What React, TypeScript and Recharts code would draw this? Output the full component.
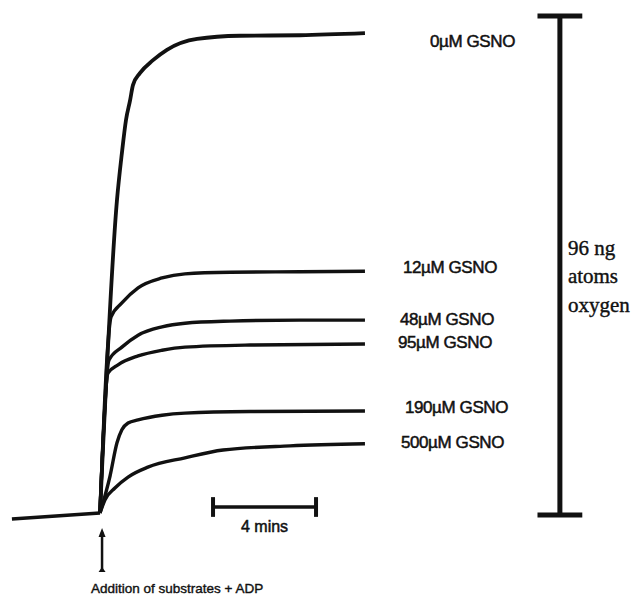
import React from 'react';
import { LineChart, Line, XAxis, YAxis, ReferenceLine, ReferenceDot } from 'recharts';

// time in minutes after addition, oxygen consumed in ng atoms O
const baseline = [
  [-3.42, -0.77],
  [-1.71, -0.19],
  [0, 0.38],
];

const gsno0 = [
  [0, 0.38], [0.66, 60.6], [0.85, 69.6], [1.01, 76.0], [1.17, 79.8], [1.28, 82.7],
  [1.55, 85.0], [2.06, 87.5], [2.6, 89.5], [3.77, 91.6], [5.44, 92.2], [7.77, 92.3], [10.29, 92.7],
];
const gsno12 = [
  [0, 0.38], [0.43, 38.1], [0.85, 40.8], [1.48, 43.7], [2.41, 45.6],
  [3.3, 46.4], [5.05, 46.7], [7.77, 46.8], [10.29, 46.9],
];
const gsno48 = [
  [0, 0.38], [0.35, 29.8], [0.85, 32.3], [1.48, 34.6], [2.41, 36.2],
  [3.3, 36.9], [5.05, 37.3], [7.77, 37.5], [10.29, 37.5],
];
const gsno95 = [
  [0, 0.38], [0.31, 27.3], [0.7, 28.9], [1.48, 30.6], [2.41, 31.7], [3.3, 32.3],
  [5.83, 32.7], [10.29, 32.9],
];
const gsno190 = [
  [0, 0.38], [0.39, 7.5], [0.66, 13.9], [0.85, 16.4], [1.09, 17.7], [1.48, 18.3],
  [2.41, 19.2], [3.3, 19.6], [5.83, 19.9], [10.29, 20.0],
];
const gsno500 = [
  [0, 0.38], [0.19, 2.9], [0.58, 5.2], [1.09, 7.3], [1.86, 9.2], [3.3, 11.0],
  [4.78, 12.5], [7.38, 13.3], [10.29, 13.7],
];

const seriesNames = ['0µM GSNO', '12µM GSNO', '48µM GSNO', '95µM GSNO', '190µM GSNO', '500µM GSNO'];
const seriesData = [gsno0, gsno12, gsno48, gsno95, gsno190, gsno500];

// scale bars
const timeBarStart = 4.39;
const timeBarMinutes = 4;
const timeBarLevel = 1.54;
const oxygenBarTime = 17.86;
const oxygenBarAmount = 96;
const additionTime = 0.08;

// label offsets (px) from each trace's last point
const labelOffsets = [
  [65, 8], [38, -4], [35, -1], [33, -1], [40, -4], [36, -1],
];

const toPoints = (arr: number[][]) => arr.map(([t, v]) => ({ t, v }));

const INK = '#111';
const SANS = '"Liberation Sans", Arial, sans-serif';
const SERIF = '"Liberation Serif", "Times New Roman", serif';

const App = () => {
  return (
    <div style={{ position: 'absolute', left: 0, top: 0, width: 634, height: 599, background: '#fff' }}>
      <LineChart width={634} height={599} margin={{ top: 0, right: 0, bottom: 0, left: 0 }}>
        <XAxis type="number" dataKey="t" domain={[-3.883, 20.738]} hide allowDataOverflow />
        <YAxis type="number" dataKey="v" domain={[-16.16, 99.08]} hide allowDataOverflow />

        <Line
          data={toPoints(baseline)}
          dataKey="v"
          type="linear"
          stroke={INK}
          strokeWidth={3.5}
          dot={false}
          activeDot={false}
          isAnimationActive={false}
        />
        {seriesData.map((d, i) => (
          <Line
            key={seriesNames[i]}
            data={toPoints(d)}
            dataKey="v"
            type="monotone"
            stroke={INK}
            strokeWidth={i === 0 ? 3.8 : 3.4}
            dot={false}
            activeDot={false}
            isAnimationActive={false}
          />
        ))}

        {seriesData.map((d, i) => {
          const [t, v] = d[d.length - 1];
          const [dx, dy] = labelOffsets[i];
          return (
            <ReferenceDot
              key={'lab' + i}
              x={t}
              y={v}
              r={1}
              shape={(p: any) => (
                <text
                  x={p.cx + dx}
                  y={p.cy + dy}
                  dominantBaseline="central"
                  fontFamily={SANS}
                  fontSize={17}
                  letterSpacing={-0.4}
                  fill={INK}
                  stroke={INK}
                  strokeWidth={0.5}
                >
                  {seriesNames[i]}
                </text>
              )}
            />
          );
        })}

        {/* 4 min time bar */}
        <ReferenceLine
          segment={[{ x: timeBarStart, y: timeBarLevel }, { x: timeBarStart + timeBarMinutes, y: timeBarLevel }]}
          stroke={INK}
          strokeWidth={3.5}
        />
        <ReferenceLine
          segment={[{ x: timeBarStart, y: timeBarLevel - 1.9 }, { x: timeBarStart, y: timeBarLevel + 1.9 }]}
          stroke={INK}
          strokeWidth={4}
        />
        <ReferenceLine
          segment={[{ x: timeBarStart + timeBarMinutes, y: timeBarLevel - 1.9 }, { x: timeBarStart + timeBarMinutes, y: timeBarLevel + 1.9 }]}
          stroke={INK}
          strokeWidth={4}
        />
        <ReferenceDot
          x={timeBarStart + timeBarMinutes / 2}
          y={timeBarLevel}
          r={1}
          shape={(p: any) => (
            <text
              x={p.cx}
              y={p.cy + 20}
              textAnchor="middle"
              dominantBaseline="central"
              fontFamily={SANS}
              fontSize={16}
              fill={INK}
              stroke={INK}
              strokeWidth={0.5}
            >
              4 mins
            </text>
          )}
        />

        {/* 96 ng atoms oxygen bar */}
        <ReferenceLine
          segment={[{ x: oxygenBarTime, y: 0 }, { x: oxygenBarTime, y: oxygenBarAmount }]}
          stroke={INK}
          strokeWidth={5}
        />
        <ReferenceLine
          segment={[{ x: oxygenBarTime - 0.87, y: 0 }, { x: oxygenBarTime + 0.87, y: 0 }]}
          stroke={INK}
          strokeWidth={5}
        />
        <ReferenceLine
          segment={[{ x: oxygenBarTime - 0.87, y: oxygenBarAmount }, { x: oxygenBarTime + 0.87, y: oxygenBarAmount }]}
          stroke={INK}
          strokeWidth={5}
        />
        <ReferenceDot
          x={oxygenBarTime}
          y={oxygenBarAmount / 2}
          r={1}
          shape={(p: any) => (
            <text x={p.cx + 8} y={p.cy} fontFamily={SERIF} fontSize={21} fill={INK} stroke={INK} strokeWidth={0.4}>
              <tspan x={p.cx + 8} dy={-10.5}>96 ng</tspan>
              <tspan x={p.cx + 8} dy={28}>atoms</tspan>
              <tspan x={p.cx + 8} dy={29}>oxygen</tspan>
            </text>
          )}
        />

        {/* addition arrow */}
        <ReferenceDot
          x={additionTime}
          y={-2.5}
          r={1}
          shape={(p: any) => (
            <g>
              <line x1={p.cx} y1={p.cy + 4} x2={p.cx} y2={p.cy + 42} stroke={INK} strokeWidth={2.5} />
              <path d={`M${p.cx},${p.cy} L${p.cx - 3.5},${p.cy + 9} L${p.cx + 3.5},${p.cy + 9} Z`} fill={INK} />
              <path d={`M${p.cx - 3.5},${p.cy + 44} L${p.cx},${p.cy + 39} L${p.cx + 3.5},${p.cy + 44} Z`} fill={INK} />
              <text
                x={p.cx + 75}
                y={p.cy + 61}
                textAnchor="middle"
                dominantBaseline="central"
                fontFamily={SANS}
                fontSize={13.5}
                fill={INK}
                stroke={INK}
                strokeWidth={0.4}
              >
                Addition of substrates + ADP
              </text>
            </g>
          )}
        />
      </LineChart>
    </div>
  );
};

export default App;
